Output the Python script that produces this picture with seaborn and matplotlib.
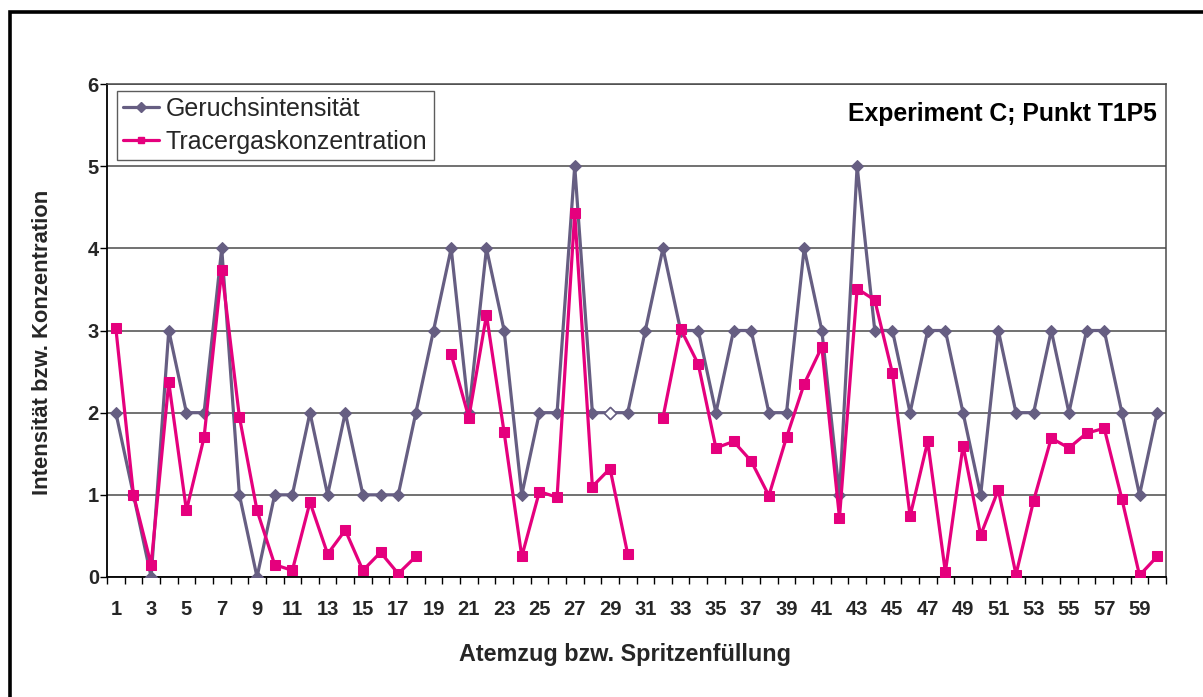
import numpy as np
import pandas as pd
import matplotlib
matplotlib.use("Agg")
import matplotlib.pyplot as plt
import seaborn as sns
from matplotlib.lines import Line2D
from matplotlib.patches import Rectangle
from matplotlib.ticker import FixedLocator

# --- data -----------------------------------------------------------------
atemzug = list(range(1, 61))

geruchsintensitaet = [
    2, 1, 0, 3, 2, 2, 4, 1, 0, 1,
    1, 2, 1, 2, 1, 1, 1, 2, 3, 4,
    2, 4, 3, 1, 2, 2, 5, 2, 2, 2,
    3, 4, 3, 3, 2, 3, 3, 2, 2, 4,
    3, 1, 5, 3, 3, 2, 3, 3, 2, 1,
    3, 2, 2, 3, 2, 3, 3, 2, 1, 2,
]

tracergas = [
    3.03, 1.00, 0.15, 2.37, 0.81, 1.70, 3.74, 1.95, 0.81, 0.15,
    0.08, 0.91, 0.28, 0.57, 0.08, 0.30, 0.04, 0.25, np.nan, 2.71,
    1.94, 3.19, 1.76, 0.25, 1.04, 0.97, 4.43, 1.10, 1.32, 0.28,
    np.nan, 1.94, 3.02, 2.59, 1.57, 1.65, 1.41, 0.99, 1.70, 2.35,
    2.80, 0.72, 3.51, 3.37, 2.48, 0.74, 1.65, 0.06, 1.60, 0.51,
    1.06, 0.03, 0.93, 1.69, 1.57, 1.75, 1.81, 0.95, 0.02, 0.25,
]

# breath with an unfilled (hollow) marker
hohle_marker = [29]

x_tick_labels = [str(i) for i in range(1, 61, 2)]
y_ticks = [0, 1, 2, 3, 4, 5, 6]

# --- style ----------------------------------------------------------------
GRAY = "#665E82"
PINK = "#E5007D"
GRID = "#4A4A4A"

sns.set_theme(style="white")
plt.rcParams["font.family"] = ["Liberation Sans", "DejaVu Sans"]

W, H = 1203, 697
fig = plt.figure(figsize=(W / 100, H / 100), dpi=100)
ax = fig.add_axes([107 / W, 1 - 577 / H, (1166 - 107) / W, (577 - 84) / H])

# --- series ---------------------------------------------------------------
df_g = pd.DataFrame({"atemzug": atemzug, "wert": geruchsintensitaet})
sns.lineplot(data=df_g, x="atemzug", y="wert", ax=ax, color=GRAY,
             linewidth=2.3, marker="D", markersize=6.5,
             markeredgecolor=GRAY, markerfacecolor=GRAY, zorder=3,
             legend=False)

df_t = pd.DataFrame({"atemzug": atemzug, "wert": tracergas})
df_t["abschnitt"] = df_t["wert"].isna().cumsum()
df_t = df_t.dropna()
sns.lineplot(data=df_t, x="atemzug", y="wert", units="abschnitt",
             estimator=None, ax=ax, color=PINK, linewidth=2.3,
             marker="s", markersize=6.5, markeredgecolor=PINK,
             markerfacecolor=PINK, zorder=4, legend=False)

df_h = pd.DataFrame({"atemzug": hohle_marker,
                     "wert": [geruchsintensitaet[i - 1] for i in hohle_marker]})
sns.scatterplot(data=df_h, x="atemzug", y="wert", ax=ax, marker="D",
                s=38, color="white", edgecolor=GRAY, linewidth=1.2,
                zorder=5, legend=False)

# --- axes -----------------------------------------------------------------
ax.set_xlim(0.5, 60.5)
ax.set_ylim(0, 6)

ax.xaxis.set_major_locator(FixedLocator(list(range(1, 61, 2))))
ax.set_xticklabels(x_tick_labels)
ax.xaxis.set_minor_locator(FixedLocator(list(np.arange(0.5, 61, 1.0))))
ax.tick_params(axis="x", which="major", length=0, pad=16.5,
               labelsize=14.5)
ax.tick_params(axis="x", which="minor", length=5, width=1,
               color="black", direction="out", bottom=True)
for lab in ax.get_xticklabels():
    lab.set_fontweight("bold")

ax.set_yticks(y_ticks)
ax.tick_params(axis="y", which="major", length=5, width=1,
               color="black", direction="out", left=True, labelsize=14.5,
               pad=0.8)
for lab in ax.get_yticklabels():
    lab.set_fontweight("bold")

ax.grid(axis="y", color=GRID, linewidth=1.1, zorder=1)
ax.set_axisbelow(True)
for side in ["left", "bottom"]:
    ax.spines[side].set_color("black")
    ax.spines[side].set_linewidth(1.3)
for side in ["top", "right"]:
    ax.spines[side].set_color(GRID)
    ax.spines[side].set_linewidth(1.1)

ax.set_xlabel("Atemzug bzw. Spritzenfüllung", fontsize=16.8,
              fontweight="bold")
ax.set_ylabel("Intensität bzw. Konzentration", fontsize=15.8,
              fontweight="bold")
ax.xaxis.set_label_coords(0.489, -0.134)
ax.yaxis.set_label_coords(-0.0507, 0.475)

# --- legend and caption ---------------------------------------------------
handles = [
    Line2D([], [], color=GRAY, lw=2.3, marker="D", markersize=5,
           markeredgecolor=GRAY),
    Line2D([], [], color=PINK, lw=2.3, marker="s", markersize=5,
           markeredgecolor=PINK),
]
leg = ax.legend(handles, ["Geruchsintensität", "Tracergaskonzentration"],
                loc="upper left", bbox_to_anchor=(0.0094, 0.986),
                borderaxespad=0, frameon=True, fancybox=False,
                edgecolor="#333333", fontsize=18, handlelength=1.45,
                handletextpad=0.25, borderpad=0.25, labelspacing=0.36)
leg.get_frame().set_linewidth(1.0)

ax.text(0.9915, 0.94, "Experiment C; Punkt T1P5", transform=ax.transAxes,
        ha="right", va="center", fontsize=17.8, fontweight="bold",
        color="black")

# outer chart frame
fig.patches.append(Rectangle((9.5 / W, -0.1), 1.2, 1.1 - 11.5 / H,
                             transform=fig.transFigure, fill=False,
                             linewidth=2.6, edgecolor="black"))

fig.savefig("out.png", dpi=100, facecolor="white")
